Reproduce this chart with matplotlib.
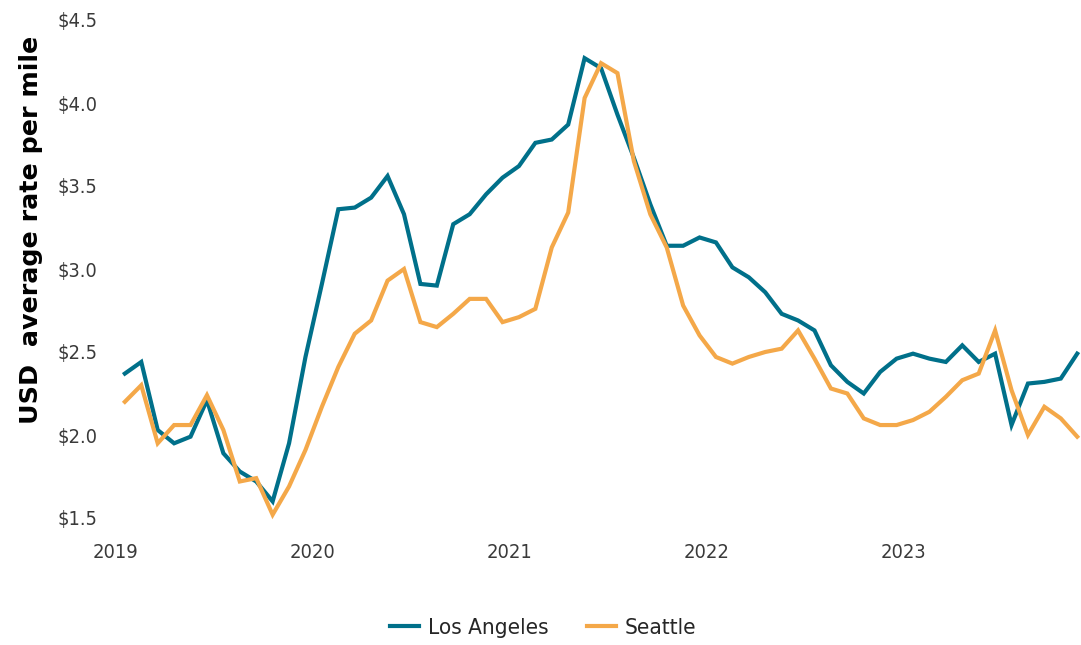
import matplotlib
matplotlib.use("Agg")
import matplotlib.pyplot as plt
from matplotlib import font_manager
import numpy as np

# Monthly data, Jan 2019 - Nov 2023
months = [f"{y}-{m:02d}" for y in range(2019, 2024) for m in range(1, 13)][:59]

los_angeles = [
    2.37, 2.44, 2.03, 1.95, 1.99, 2.21, 1.89, 1.78, 1.72, 1.60, 1.95, 2.47,
    2.91, 3.36, 3.37, 3.43, 3.56, 3.33, 2.91, 2.90, 3.27, 3.33, 3.45, 3.55,
    3.62, 3.76, 3.78, 3.87, 4.27, 4.21, 3.93, 3.67, 3.39, 3.14, 3.14, 3.19,
    3.16, 3.01, 2.95, 2.86, 2.73, 2.69, 2.63, 2.42, 2.32, 2.25, 2.38, 2.46,
    2.49, 2.46, 2.44, 2.54, 2.44, 2.49, 2.06, 2.31, 2.32, 2.34, 2.49,
]
seattle = [
    2.20, 2.30, 1.95, 2.06, 2.06, 2.24, 2.03, 1.72, 1.74, 1.52, 1.69, 1.91,
    2.17, 2.41, 2.61, 2.69, 2.93, 3.00, 2.68, 2.65, 2.73, 2.82, 2.82, 2.68,
    2.71, 2.76, 3.13, 3.34, 4.03, 4.24, 4.18, 3.65, 3.33, 3.13, 2.78, 2.60,
    2.47, 2.43, 2.47, 2.50, 2.52, 2.63, 2.46, 2.28, 2.25, 2.10, 2.06, 2.06,
    2.09, 2.14, 2.23, 2.33, 2.37, 2.63, 2.27, 2.00, 2.17, 2.10, 1.99,
]
year_labels = ["2019", "2020", "2021", "2022", "2023"]
y_ticks = [1.5, 2.0, 2.5, 3.0, 3.5, 4.0, 4.5]

teal = "#00708A"
orange = "#F4A849"
tick_color = "#3a3a3a"


def pick_font():
    """Prefer a narrow sans (the reference text is horizontally condensed)."""
    try:
        p = font_manager.findfont(
            font_manager.FontProperties(family="Liberation Sans Narrow"),
            fallback_to_default=False)
        if "Narrow" in p:
            return font_manager.FontProperties(fname=p), 0.82
    except Exception:
        pass
    try:
        p = font_manager.findfont(
            font_manager.FontProperties(family="DejaVu Sans", stretch="condensed"),
            fallback_to_default=False)
        if "Condensed" in p and "Bold" not in p and "Oblique" not in p:
            return font_manager.FontProperties(fname=p), 0.9
    except Exception:
        pass
    return font_manager.FontProperties(family="Open Sans"), 1.0


base_fp, narrow = pick_font()
scale = 1.0 if narrow < 0.85 else 0.85
tick_size = 17 * scale
legend_size = 19 * scale

W, H = 1081, 645
fig = plt.figure(figsize=(W / 100, H / 100), dpi=100)
left_px, right_px, top_px, bottom_px = 100, 1080, 20, 518
ax = fig.add_axes([left_px / W, 1 - bottom_px / H,
                   (right_px - left_px) / W, (bottom_px - top_px) / H])

x = np.arange(len(months)) + 0.6
ax.plot(x, los_angeles, color=teal, lw=3.0, label="Los Angeles",
        solid_joinstyle="miter", clip_on=False)
ax.plot(x, seattle, color=orange, lw=3.0, label="Seattle",
        solid_joinstyle="miter", clip_on=False)

px_per_month = 16.42
ax.set_xlim((left_px - 115) / px_per_month, (right_px - 115) / px_per_month)
ax.set_ylim(1.5, 4.5)

ax.set_xticks([0, 12, 24, 36, 48])
ax.set_yticks(y_ticks)
tick_fp = base_fp.copy()
tick_fp.set_size(tick_size)
ax.set_xticklabels(year_labels, fontproperties=tick_fp, color=tick_color)
ax.set_yticklabels([f"${v:.1f}" for v in y_ticks], fontproperties=tick_fp,
                   color=tick_color)

for s in ax.spines.values():
    s.set_visible(False)
ax.tick_params(axis="both", length=0)
ax.tick_params(axis="x", pad=18)
ax.tick_params(axis="y", pad=2)

fig.text(31 / W, 1 - 230 / H, "USD  average rate per mile", rotation=90,
         ha="center", va="center", fontsize=18.3, fontweight="bold",
         family="DejaVu Sans", color="#000000")

leg_fp = base_fp.copy()
leg_fp.set_size(legend_size)
leg = fig.legend(loc="center", bbox_to_anchor=(543 / W, 1 - 628 / H), ncol=2,
                 frameon=False, handlelength=1.3, columnspacing=1.7,
                 handletextpad=0.4, prop=leg_fp)
for t in leg.get_texts():
    t.set_color("#262626")

fig.savefig("out.png", dpi=100)
